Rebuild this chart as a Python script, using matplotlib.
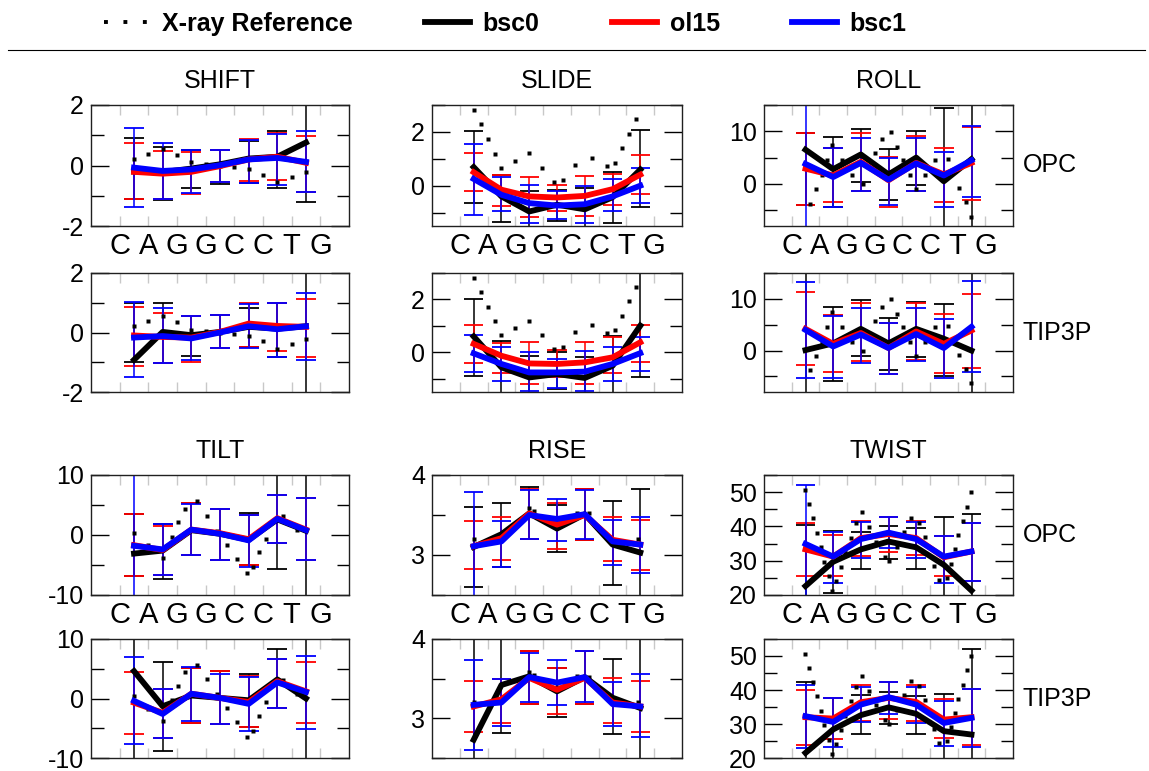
import matplotlib
matplotlib.use('Agg')
import matplotlib.pyplot as plt
from matplotlib.lines import Line2D
from matplotlib.ticker import MultipleLocator

plt.rcParams['font.family'] = ['Liberation Sans', 'DejaVu Sans']
plt.rcParams['axes.unicode_minus'] = False

# ---------------- data ----------------
bases = ['C', 'A', 'G', 'G', 'C', 'C', 'T', 'G']
base_x = [2, 4, 6, 8, 10, 12, 14, 16]
step_x = [3, 5, 7, 9, 11, 13, 15]
forcefields = ['bsc0', 'ol15', 'bsc1']
ff_colors = ['#000000', '#ff0000', '#0000ff']

# SHIFT
shift_opc_bsc0 = [-0.2, -0.22, -0.1, 0.04, 0.23, 0.29, 0.76]
shift_opc_ol15 = [-0.21, -0.27, -0.21, -0.02, 0.2, 0.29, 0.09]
shift_opc_bsc1 = [-0.07, -0.18, -0.13, 0.01, 0.2, 0.25, 0.12]
shift_opc_bsc0_lo = [-1.1, -1.15, -0.76, -0.6, -0.57, -0.74, -1.2]
shift_opc_bsc0_hi = [0.92, 0.6, 0.51, 0.51, 0.8, 1.15, 3.0]
shift_opc_ol15_lo = [-1.1, -1.1, -0.93, -0.55, -0.51, -0.49, -0.87]
shift_opc_ol15_hi = [0.73, 0.49, 0.45, 0.5, 0.86, 1.08, 0.98]
shift_opc_bsc1_lo = [-1.37, -1.1, -0.9, -0.54, -0.57, -0.65, -0.87]
shift_opc_bsc1_hi = [1.25, 0.73, 0.51, 0.51, 0.84, 1.04, 1.15]

shift_tip_bsc0 = [-0.92, 0.02, -0.09, 0.02, 0.19, 0.13, 0.21]
shift_tip_ol15 = [-0.1, -0.15, -0.17, 0.02, 0.3, 0.22, 0.19]
shift_tip_bsc1 = [-0.17, -0.12, -0.2, 0.0, 0.21, 0.11, 0.21]
shift_tip_bsc0_lo = [-1.0, -1.01, -0.78, -0.53, -0.5, -0.84, -3.0]
shift_tip_bsc0_hi = [0.99, 0.99, 0.55, 0.58, 0.84, 1.0, 3.0]
shift_tip_ol15_lo = [-1.13, -1.01, -0.98, -0.53, -0.5, -0.61, -0.81]
shift_tip_ol15_hi = [0.86, 0.64, 0.55, 0.58, 0.99, 1.0, 1.14]
shift_tip_bsc1_lo = [-1.48, -1.01, -0.92, -0.53, -0.53, -0.81, -0.92]
shift_tip_bsc1_hi = [1.02, 0.82, 0.55, 0.58, 0.95, 1.0, 1.33]

shift_xray_x = [3, 4, 5, 6, 7, 8, 9, 10, 11, 12, 13, 14, 15]
shift_xray_y = [0.21, 0.39, 0.56, 0.34, 0.1, 0.05, 0.0, -0.05, -0.11, -0.3, -0.55, -0.39, -0.22]

# SLIDE
slide_opc_bsc0 = [0.69, -0.4, -0.96, -0.71, -0.88, -0.43, 0.6]
slide_opc_ol15 = [0.5, -0.15, -0.4, -0.44, -0.38, -0.13, 0.41]
slide_opc_bsc1 = [0.25, -0.34, -0.65, -0.74, -0.69, -0.4, 0.0]
slide_opc_bsc0_lo = [-0.65, -1.34, -1.7, -1.3, -1.65, -1.4, -0.8]
slide_opc_bsc0_hi = [2.04, 0.41, -0.18, -0.15, -0.09, 0.5, 2.06]
slide_opc_ol15_lo = [-0.21, -0.74, -1.15, -0.96, -1.12, -0.71, -0.31]
slide_opc_ol15_hi = [1.22, 0.41, 0.33, 0.04, 0.35, 0.45, 1.14]
slide_opc_bsc1_lo = [-1.09, -0.96, -1.38, -1.25, -1.4, -0.96, -0.63]
slide_opc_bsc1_hi = [1.56, 0.33, 0.04, -0.21, 0.0, 0.25, 0.64]

slide_tip_bsc0 = [0.6, -0.57, -0.95, -0.82, -0.97, -0.51, 1.01]
slide_tip_ol15 = [0.32, -0.13, -0.42, -0.44, -0.38, -0.19, 0.38]
slide_tip_bsc1 = [-0.04, -0.44, -0.76, -0.76, -0.73, -0.44, -0.03]
slide_tip_bsc0_lo = [-0.89, -1.6, -1.7, -1.4, -1.7, -1.6, -0.95]
slide_tip_bsc0_hi = [2.0, 0.41, -0.13, 0.0, -0.16, 0.63, 3.5]
slide_tip_ol15_lo = [-0.42, -0.8, -1.2, -0.95, -1.2, -0.8, -0.35]
slide_tip_ol15_hi = [1.04, 0.34, 0.38, 0.09, 0.38, 0.57, 1.05]
slide_tip_bsc1_lo = [-0.76, -1.1, -1.48, -1.33, -1.48, -1.08, -0.7]
slide_tip_bsc1_hi = [0.66, 0.22, 0.0, -0.25, 0.04, 0.22, 0.57]

slide_xray_x = [3, 3.5, 4, 4.5, 5, 6, 7, 7.9, 8.8, 9.4, 10.3, 11.5, 12.6, 13.2, 13.7, 14.2, 14.7]
slide_xray_y = [2.82, 2.29, 1.72, 1.19, 0.64, 0.93, 1.2, 0.66, 0.12, 0.22, 0.77, 1.03, 0.74, 0.85, 1.39, 1.93, 2.48]

# ROLL
roll_opc_bsc0 = [6.5, 2.8, 5.6, 1.8, 5.0, 0.5, 4.7]
roll_opc_ol15 = [2.9, 1.6, 4.2, 0.7, 4.0, 1.8, 4.0]
roll_opc_bsc1 = [3.8, 1.3, 4.0, 0.8, 3.9, 1.6, 4.5]
roll_opc_bsc0_lo = [-4.0, -4.4, 0.3, -3.1, -0.3, -12.0, -12.0]
roll_opc_bsc0_hi = [9.6, 9.0, 10.4, 6.6, 10.1, 14.5, 20.0]
roll_opc_ol15_lo = [-4.0, -3.5, -1.4, -4.3, -1.4, -3.5, -3.0]
roll_opc_ol15_hi = [9.6, 6.9, 9.6, 5.1, 9.2, 6.8, 10.8]
roll_opc_bsc1_lo = [-12.0, -4.4, -1.4, -4.0, -1.4, -4.3, -2.4]
roll_opc_bsc1_hi = [20.0, 6.9, 8.7, 5.0, 8.7, 6.1, 11.0]

roll_tip_bsc0 = [0.1, 1.4, 4.2, 1.4, 4.2, 2.3, 0.0]
roll_tip_ol15 = [4.2, 1.3, 3.4, 0.5, 3.7, 1.3, 3.9]
roll_tip_bsc1 = [4.0, 0.8, 3.1, 0.5, 3.2, 0.5, 4.6]
roll_tip_bsc0_lo = [-12.0, -5.9, -1.0, -3.7, -1.3, -5.0, -12.0]
roll_tip_bsc0_hi = [20.0, 8.4, 9.7, 6.3, 9.4, 9.0, 20.0]
roll_tip_ol15_lo = [-2.7, -4.2, -2.1, -4.5, -1.8, -4.3, -3.4]
roll_tip_ol15_hi = [11.4, 6.8, 9.2, 5.3, 9.2, 7.0, 11.0]
roll_tip_bsc1_lo = [-5.2, -5.3, -2.4, -4.5, -2.1, -5.3, -4.1]
roll_tip_bsc1_hi = [13.2, 6.6, 8.3, 5.3, 8.3, 6.1, 13.4]

roll_xray_x = [3.36, 3.75, 4.16, 4.57, 4.95, 5.67, 6.33, 7.17, 8.06, 8.54, 9.17,
               9.58, 10.06, 10.54, 11.02, 11.67, 12.35, 13.31, 14.1, 14.57, 14.95]
roll_xray_y = [-3.8, -1.0, 1.6, 4.5, 7.4, 4.5, 1.6, 0.0, 5.8, 8.5, 9.9,
               7.1, 4.5, 1.6, -1.0, 1.6, 4.6, 4.8, -0.8, -3.5, -6.2]

# TILT
tilt_opc_bsc0 = [-3.1, -2.6, 0.8, 0.2, -0.8, 2.6, 0.7]
tilt_opc_ol15 = [-1.7, -2.5, 0.9, 0.3, -0.7, 2.8, 0.9]
tilt_opc_bsc1 = [-1.8, -2.4, 0.9, 0.2, -0.9, 2.7, 0.8]
tilt_opc_bsc0_lo = [-6.8, -7.4, -3.4, -4.1, -5.0, -5.7, -15.0]
tilt_opc_bsc0_hi = [3.5, 1.8, 5.3, 4.3, 3.7, 15.0, 15.0]
tilt_opc_ol15_lo = [-6.8, -6.6, -3.4, -4.1, -5.0, -1.4, -4.2]
tilt_opc_ol15_hi = [3.5, 1.5, 5.3, 4.3, 3.4, 6.7, 6.1]
tilt_opc_bsc1_lo = [-15.0, -6.6, -3.4, -4.1, -5.4, -1.4, -4.2]
tilt_opc_bsc1_hi = [10.0, 1.9, 5.1, 4.3, 3.3, 6.7, 6.1]

tilt_tip_bsc0 = [4.6, -1.3, 0.5, 0.1, -0.3, 3.2, 0.0]
tilt_tip_ol15 = [-0.7, -2.4, 0.8, 0.1, -0.6, 2.9, 1.2]
tilt_tip_bsc1 = [-0.4, -2.6, 0.8, 0.1, -0.9, 2.7, 1.1]
tilt_tip_bsc0_lo = [-15.0, -8.9, -4.1, -4.3, -4.8, -1.6, -15.0]
tilt_tip_bsc0_hi = [15.0, 6.2, 5.2, 4.6, 4.1, 8.3, 15.0]
tilt_tip_ol15_lo = [-5.9, -6.7, -4.1, -4.3, -4.8, -1.6, -4.1]
tilt_tip_ol15_hi = [4.4, 1.6, 5.2, 4.6, 3.7, 6.7, 6.2]
tilt_tip_bsc1_lo = [-7.7, -6.7, -3.7, -4.3, -5.4, -1.6, -5.1]
tilt_tip_bsc1_hi = [6.9, 1.6, 5.3, 4.2, 3.6, 6.7, 7.1]

tilt_xray_x = [3, 4, 5, 5.67, 6.09, 6.56, 7.37, 8.07, 8.81, 9.47, 10.16, 10.9,
               11.28, 11.72, 12.19, 13.37, 14.35]
tilt_xray_y = [0.4, -1.7, -3.8, -0.3, 2.1, 4.4, 5.6, 3.2, 0.7, -1.6, -4.0, -6.4,
               -5.4, -2.9, -0.6, 3.1, 0.8]

# RISE
rise_opc_bsc0 = [3.10, 3.26, 3.52, 3.33, 3.51, 3.13, 3.03]
rise_opc_ol15 = [3.11, 3.21, 3.52, 3.38, 3.50, 3.19, 3.13]
rise_opc_bsc1 = [3.11, 3.17, 3.50, 3.45, 3.51, 3.17, 3.13]
rise_opc_bsc0_lo = [2.6, 2.85, 3.2, 3.04, 3.19, 2.63, 2.3]
rise_opc_bsc0_hi = [3.6, 3.65, 3.85, 3.63, 3.83, 3.67, 3.83]
rise_opc_ol15_lo = [2.82, 2.94, 3.2, 3.08, 3.19, 2.93, 2.81]
rise_opc_ol15_hi = [3.43, 3.48, 3.83, 3.65, 3.83, 3.48, 3.44]
rise_opc_bsc1_lo = [2.3, 2.85, 3.2, 3.17, 3.2, 2.88, 2.78]
rise_opc_bsc1_hi = [3.79, 3.43, 3.81, 3.7, 3.81, 3.44, 3.47]

rise_tip_bsc0 = [2.73, 3.42, 3.53, 3.34, 3.52, 3.26, 3.13]
rise_tip_ol15 = [3.15, 3.24, 3.51, 3.36, 3.51, 3.20, 3.15]
rise_tip_bsc1 = [3.17, 3.20, 3.52, 3.45, 3.52, 3.18, 3.15]
rise_tip_bsc0_lo = [2.3, 2.82, 3.18, 3.02, 3.18, 2.8, 2.3]
rise_tip_bsc0_hi = [4.5, 4.5, 3.85, 3.64, 3.85, 3.75, 4.5]
rise_tip_ol15_lo = [2.83, 2.94, 3.18, 3.05, 3.18, 2.94, 2.83]
rise_tip_ol15_hi = [3.47, 3.5, 3.85, 3.64, 3.85, 3.51, 3.47]
rise_tip_bsc1_lo = [2.6, 2.9, 3.21, 3.17, 3.21, 2.9, 2.76]
rise_tip_bsc1_hi = [3.73, 3.5, 3.82, 3.73, 3.85, 3.46, 3.56]

rise_xray_x = [3, 5, 7, 7.37, 9, 10.45, 11.34, 13, 14.83]
rise_xray_y = [3.2, 3.22, 3.59, 3.55, 3.4, 3.53, 3.52, 3.18, 3.2]

# TWIST
twist_opc_bsc0 = [22.6, 29.7, 33.3, 35.6, 33.9, 28.8, 21.3]
twist_opc_ol15 = [33.3, 31.2, 36.6, 37.8, 36.6, 31.0, 32.7]
twist_opc_bsc1 = [34.9, 31.2, 36.3, 38.2, 36.3, 31.2, 32.7]
twist_opc_bsc0_lo = [10.0, 20.5, 27.7, 30.5, 27.6, 10.0, 10.0]
twist_opc_bsc0_hi = [40.3, 38.8, 38.5, 40.2, 39.5, 42.7, 43.7]
twist_opc_ol15_lo = [25.4, 25.4, 31.4, 32.4, 31.7, 25.4, 24.2]
twist_opc_ol15_hi = [41.1, 37.5, 41.7, 42.7, 41.7, 37.2, 40.9]
twist_opc_bsc1_lo = [10.0, 23.4, 30.9, 33.6, 30.9, 23.6, 24.2]
twist_opc_bsc1_hi = [52.1, 38.5, 41.2, 42.7, 41.4, 37.2, 40.9]

twist_tip_bsc0 = [21.5, 28.4, 32.6, 34.9, 33.0, 27.9, 26.9]
twist_tip_ol15 = [32.0, 31.6, 36.4, 37.7, 36.5, 31.3, 32.0]
twist_tip_bsc1 = [32.3, 30.6, 35.7, 37.9, 35.7, 30.3, 31.8]
twist_tip_bsc0_lo = [10.0, 10.0, 27.1, 30.0, 27.1, 10.0, 10.0]
twist_tip_bsc0_hi = [42.3, 37.7, 38.4, 39.5, 38.2, 38.7, 52.2]
twist_tip_ol15_lo = [23.7, 25.7, 31.0, 31.6, 30.8, 25.9, 23.9]
twist_tip_ol15_hi = [39.9, 37.7, 41.4, 42.4, 41.6, 37.4, 40.2]
twist_tip_bsc1_lo = [22.8, 23.2, 30.5, 33.0, 30.3, 23.4, 23.1]
twist_tip_bsc1_hi = [41.4, 37.7, 40.8, 42.4, 40.8, 36.9, 40.2]

twist_xray_x = [2.95, 3.24, 3.51, 3.82, 4.11, 4.35, 4.69, 4.93, 5.22, 5.55, 5.89, 6.28,
                6.64, 7.12, 7.6, 8.13, 8.78, 9.02, 9.58, 10.13, 10.66, 11.22, 11.63,
                12.3, 12.64, 13.24, 13.51, 13.8, 14.04, 14.35, 14.64, 14.95]
twist_xray_y = [50.7, 46.6, 42.4, 38.2, 33.9, 29.7, 25.4, 21.2, 24.2, 28.3, 32.5, 36.7,
                40.9, 44.1, 39.7, 35.6, 31.2, 29.9, 34.1, 38.5, 42.6, 41.1, 37.0,
                28.5, 24.4, 24.9, 29.1, 33.3, 37.5, 41.6, 45.8, 50.0]

# ---------------- layout ----------------
W, H = 1149, 771
fig = plt.figure(figsize=(W / 100, H / 100), dpi=100)
col_px = [(91, 258), (432, 250), (764, 249)]
row_px = [(105, 226), (273, 392), (475, 595), (639, 758)]


def rect(r, c):
    x0, w = col_px[c]
    t, b = row_px[r]
    return [x0 / W, 1 - b / H, w / W, (b - t) / H]


panels = [
    # row, col, title, ylim, major, minor, means, lows, highs, xray_x, xray_y
    (0, 0, 'SHIFT', (-2, 2), 2, 1,
     [shift_opc_bsc0, shift_opc_ol15, shift_opc_bsc1],
     [shift_opc_bsc0_lo, shift_opc_ol15_lo, shift_opc_bsc1_lo],
     [shift_opc_bsc0_hi, shift_opc_ol15_hi, shift_opc_bsc1_hi], shift_xray_x, shift_xray_y),
    (1, 0, None, (-2, 2), 2, 1,
     [shift_tip_bsc0, shift_tip_ol15, shift_tip_bsc1],
     [shift_tip_bsc0_lo, shift_tip_ol15_lo, shift_tip_bsc1_lo],
     [shift_tip_bsc0_hi, shift_tip_ol15_hi, shift_tip_bsc1_hi], shift_xray_x, shift_xray_y),
    (0, 1, 'SLIDE', (-1.5, 3), 2, 1,
     [slide_opc_bsc0, slide_opc_ol15, slide_opc_bsc1],
     [slide_opc_bsc0_lo, slide_opc_ol15_lo, slide_opc_bsc1_lo],
     [slide_opc_bsc0_hi, slide_opc_ol15_hi, slide_opc_bsc1_hi], slide_xray_x, slide_xray_y),
    (1, 1, None, (-1.5, 3), 2, 1,
     [slide_tip_bsc0, slide_tip_ol15, slide_tip_bsc1],
     [slide_tip_bsc0_lo, slide_tip_ol15_lo, slide_tip_bsc1_lo],
     [slide_tip_bsc0_hi, slide_tip_ol15_hi, slide_tip_bsc1_hi], slide_xray_x, slide_xray_y),
    (0, 2, 'ROLL', (-8, 15), 10, 5,
     [roll_opc_bsc0, roll_opc_ol15, roll_opc_bsc1],
     [roll_opc_bsc0_lo, roll_opc_ol15_lo, roll_opc_bsc1_lo],
     [roll_opc_bsc0_hi, roll_opc_ol15_hi, roll_opc_bsc1_hi], roll_xray_x, roll_xray_y),
    (1, 2, None, (-8, 15), 10, 5,
     [roll_tip_bsc0, roll_tip_ol15, roll_tip_bsc1],
     [roll_tip_bsc0_lo, roll_tip_ol15_lo, roll_tip_bsc1_lo],
     [roll_tip_bsc0_hi, roll_tip_ol15_hi, roll_tip_bsc1_hi], roll_xray_x, roll_xray_y),
    (2, 0, 'TILT', (-10, 10), 10, 5,
     [tilt_opc_bsc0, tilt_opc_ol15, tilt_opc_bsc1],
     [tilt_opc_bsc0_lo, tilt_opc_ol15_lo, tilt_opc_bsc1_lo],
     [tilt_opc_bsc0_hi, tilt_opc_ol15_hi, tilt_opc_bsc1_hi], tilt_xray_x, tilt_xray_y),
    (3, 0, None, (-10, 10), 10, 5,
     [tilt_tip_bsc0, tilt_tip_ol15, tilt_tip_bsc1],
     [tilt_tip_bsc0_lo, tilt_tip_ol15_lo, tilt_tip_bsc1_lo],
     [tilt_tip_bsc0_hi, tilt_tip_ol15_hi, tilt_tip_bsc1_hi], tilt_xray_x, tilt_xray_y),
    (2, 1, 'RISE', (2.5, 4), 1, 0.5,
     [rise_opc_bsc0, rise_opc_ol15, rise_opc_bsc1],
     [rise_opc_bsc0_lo, rise_opc_ol15_lo, rise_opc_bsc1_lo],
     [rise_opc_bsc0_hi, rise_opc_ol15_hi, rise_opc_bsc1_hi], rise_xray_x, rise_xray_y),
    (3, 1, None, (2.5, 4), 1, 0.5,
     [rise_tip_bsc0, rise_tip_ol15, rise_tip_bsc1],
     [rise_tip_bsc0_lo, rise_tip_ol15_lo, rise_tip_bsc1_lo],
     [rise_tip_bsc0_hi, rise_tip_ol15_hi, rise_tip_bsc1_hi], rise_xray_x, rise_xray_y),
    (2, 2, 'TWIST', (20, 55), 10, 5,
     [twist_opc_bsc0, twist_opc_ol15, twist_opc_bsc1],
     [twist_opc_bsc0_lo, twist_opc_ol15_lo, twist_opc_bsc1_lo],
     [twist_opc_bsc0_hi, twist_opc_ol15_hi, twist_opc_bsc1_hi], twist_xray_x, twist_xray_y),
    (3, 2, None, (20, 55), 10, 5,
     [twist_tip_bsc0, twist_tip_ol15, twist_tip_bsc1],
     [twist_tip_bsc0_lo, twist_tip_ol15_lo, twist_tip_bsc1_lo],
     [twist_tip_bsc0_hi, twist_tip_ol15_hi, twist_tip_bsc1_hi], twist_xray_x, twist_xray_y),
]

cap_half = 0.7
for (r, c, title, ylim, major, minor, means, lows, highs, xx, xy) in panels:
    ax = fig.add_axes(rect(r, c))
    ax.set_xlim(0, 18)
    ax.set_ylim(*ylim)
    # error bars
    for m, lo, hi, col in zip(means, lows, highs, ff_colors):
        ax.vlines(step_x, lo, hi, color=col, lw=1.1, zorder=2)
        ax.hlines(lo, [x - cap_half for x in step_x], [x + cap_half for x in step_x],
                  color=col, lw=1.3, zorder=2)
        ax.hlines(hi, [x - cap_half for x in step_x], [x + cap_half for x in step_x],
                  color=col, lw=1.3, zorder=2)
    # X-ray reference
    ax.plot(xx, xy, ls='none', marker='s', ms=3.2, color='k', mec='none', zorder=3)
    # averages
    for m, col in zip(means, ff_colors):
        ax.plot(step_x, m, color=col, lw=4.2, zorder=4, solid_joinstyle='round')

    ax.yaxis.set_major_locator(MultipleLocator(major))
    ax.yaxis.set_minor_locator(MultipleLocator(minor))
    ax.tick_params(axis='y', which='both', direction='in', left=True, right=True,
                   labelsize=18, color='k', width=1.0, pad=5)
    ax.tick_params(axis='y', which='major', length=13)
    ax.tick_params(axis='y', which='minor', length=9)
    ax.set_xticks(base_x)
    if r in (0, 2):
        ax.set_xticklabels(bases)
    else:
        ax.set_xticklabels([''] * len(base_x))
    ax.tick_params(axis='x', which='major', direction='in', top=True, bottom=True,
                   length=7, color='#c8c8c8', width=1.0, labelsize=21, pad=4)
    for s in ax.spines.values():
        s.set_linewidth(1.0)
        s.set_color('#202020')
    if title:
        ax.set_title(title, fontsize=18, pad=12)
    if c == 2:
        ax.text(1.04, 0.5, 'OPC' if r in (0, 2) else 'TIP3P', transform=ax.transAxes,
                ha='left', va='center', fontsize=18)

# legend
handles = [Line2D([], [], color='k', ls=(0, (1, 4)), lw=2.8)]
for col in ff_colors:
    handles.append(Line2D([], [], color=col, lw=4.2))
labels = ['X-ray Reference'] + forcefields
fig.legend(handles, labels, loc='center', bbox_to_anchor=(0.44, 1 - 24 / H), ncol=4,
           frameon=False, prop={'size': 18, 'weight': 'bold'}, handlelength=1.8,
           handletextpad=0.5, columnspacing=2.9)
fig.add_artist(Line2D([8 / W, 1145 / W], [1 - 50 / H, 1 - 50 / H], color='k', lw=0.8))

fig.savefig('out.png', dpi=100)
